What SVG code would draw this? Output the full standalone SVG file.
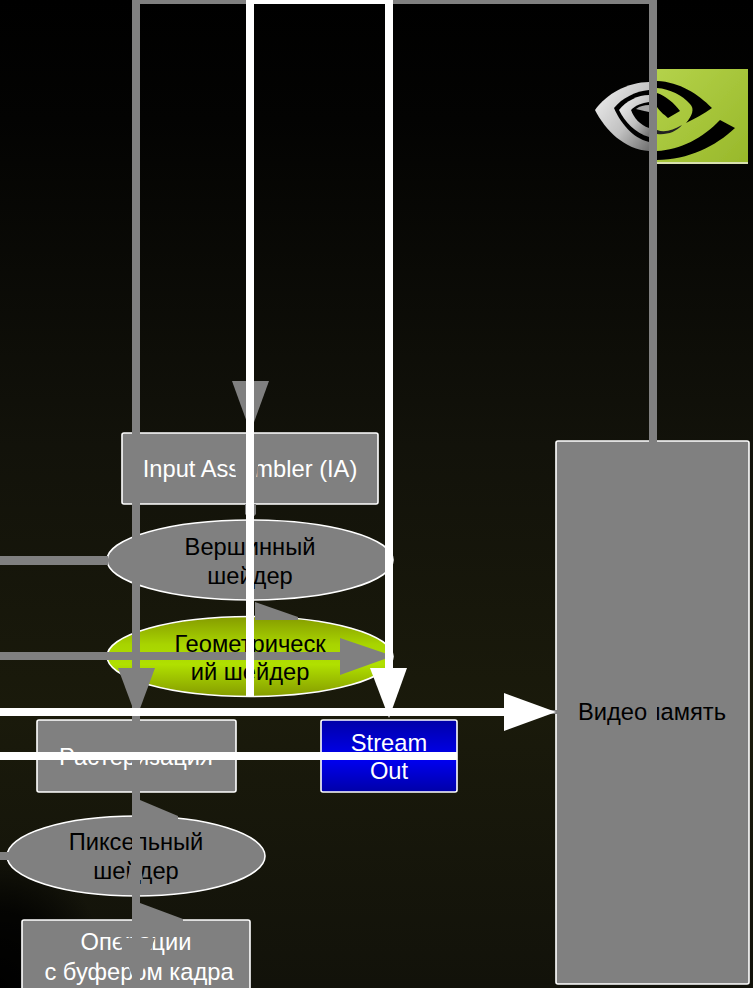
<svg xmlns="http://www.w3.org/2000/svg" width="753" height="988" viewBox="0 0 753 988">
<defs>
<linearGradient id="bg" x1="0" y1="0" x2="0" y2="1"><stop offset="0" stop-color="#000"/><stop offset="0.12" stop-color="#030302"/><stop offset="0.45" stop-color="#12120a"/><stop offset="0.72" stop-color="#1a1a0b"/><stop offset="1" stop-color="#12120a"/></linearGradient>
<radialGradient id="corner" cx="0" cy="1" r="1"><stop offset="0" stop-color="#000" stop-opacity="1"/><stop offset="0.55" stop-color="#000" stop-opacity="0.8"/><stop offset="1" stop-color="#000" stop-opacity="0"/></radialGradient>
<linearGradient id="lime" x1="0" y1="0" x2="0" y2="1"><stop offset="0" stop-color="#859b00"/><stop offset="0.35" stop-color="#a8d400"/><stop offset="0.6" stop-color="#b0e000"/><stop offset="1" stop-color="#859b00"/></linearGradient>
<linearGradient id="blue" x1="0" y1="0" x2="0" y2="1"><stop offset="0" stop-color="#0000a8"/><stop offset="0.55" stop-color="#0000f0"/><stop offset="1" stop-color="#0000a8"/></linearGradient>
<linearGradient id="logoGreen" x1="0" y1="0" x2="1" y2="1"><stop offset="0" stop-color="#b4d24a"/><stop offset="1" stop-color="#98b82a"/></linearGradient>
<linearGradient id="silver" x1="0" y1="0" x2="1" y2="1"><stop offset="0" stop-color="#f4f4f4"/><stop offset="0.6" stop-color="#c0c0c0"/><stop offset="1" stop-color="#707070"/></linearGradient>
<filter id="soft" x="-5%" y="-5%" width="110%" height="110%"><feGaussianBlur stdDeviation="0.7"/></filter>
</defs>
<style>
text{font-family:"Liberation Sans",Arial,sans-serif;font-size:23.7px;text-anchor:middle}
.k{fill:#000}.w{fill:#fff}
.n{fill:#808080;stroke:#fff;stroke-width:1.6}
.g{fill:#808080}.wf{fill:#fff}
</style>
<rect width="753" height="988" fill="url(#bg)"/>
<rect x="0" y="850" width="110" height="138" fill="url(#corner)"/>
<g id="logo" filter="url(#soft)">
<rect x="657" y="69" width="91" height="95" fill="url(#logoGreen)"/>
<rect x="657" y="162" width="91" height="2" fill="#d8e0b0"/>
<path d="M595,110C606,94 628,82 649,82L649,151C625,150 605,130 595,110Z" fill="url(#silver)"/>
<path d="M614,108C622,98 636,91 649,90L649,142C632,138 620,122 614,108Z" fill="#000"/>
<path d="M619,110C626,101 638,95 649,95L649,137C635,133 625,122 619,110Z" fill="url(#silver)"/>
<path d="M631,110C636,105 642,103 649,102L649,128C640,125 634,118 631,110Z" fill="#000"/>
<path d="M636,109C640,106 644,105 649,105L649,112C644,111 640,110 636,109Z" fill="#a8a8a8"/>
<path d="M657,81C680,82 698,94 712,108C704,114 694,119 686,123C692,116 695,109 690,104C682,95 670,89 657,88Z" fill="#000"/>
<path d="M657,93C666,96 674,103 680,111L668,118C665,115 661,113 657,107Z" fill="#000"/>
<path d="M657,130C665,133 673,130 682,125C676,132 667,135 657,134Z" fill="#222"/>
<path d="M657,151C680,150 703,138 720,120L735,128C716,146 688,160 657,160Z" fill="#000"/>
</g>
<g id="node-ia"><rect class="n" x="122" y="433" width="256" height="71" rx="2"/><text class="w" x="250" y="477">Input Assembler (IA)</text></g>
<g id="node-vs"><ellipse class="n" cx="250" cy="560" rx="143" ry="40"/><text class="k" x="250" y="555">Вершинный</text><text class="k" x="250" y="584">шейдер</text></g>
<g id="node-gs"><ellipse cx="250" cy="656.500" rx="143" ry="40" fill="url(#lime)" stroke="#fff" stroke-width="1.600"/><text class="k" x="250" y="652">Геометрическ</text><text class="k" x="250" y="680">ий шейдер</text></g>
<g id="node-rast"><rect class="n" x="37" y="720" width="199" height="72" rx="2"/><text class="w" x="136" y="765">Растеризация</text></g>
<g id="node-so"><rect x="321" y="720" width="136" height="72" rx="2" fill="url(#blue)" stroke="#fff" stroke-width="1.600"/><text class="w" x="389" y="751">Stream</text><text class="w" x="389" y="779">Out</text></g>
<g id="node-ps"><ellipse class="n" cx="136" cy="856" rx="129" ry="40"/><text class="k" x="136" y="850">Пиксельный</text><text class="k" x="136" y="879">шейдер</text></g>
<g id="node-om"><rect class="n" x="22" y="920" width="228" height="80" rx="2"/><text class="w" x="136" y="950">Операции</text><text class="w" x="139" y="980">с буфером кадра</text></g>
<g id="node-mem"><rect class="n" x="556" y="441" width="193" height="543" rx="2"/><text class="k" x="652" y="720" word-spacing="-6">Видео память</text></g>
<g id="connectors">
<path class="g" d="M132,0H657V440H649V4H140V720H132Z"/>
<rect class="g" x="649" y="440" width="8" height="290"/>
<rect class="g" x="132" y="720" width="8" height="268"/>
<polygon class="g" points="232,381 269,381 250.500,432"/>
<polygon class="g" points="234,459 258,459 258,466 253,500 247,500 236,478"/>
<polygon class="g" points="245,504 256,504 256,514 250.500,520 245,514"/>
<polygon class="g" points="255,602 298,617 298,620 255,620"/>
<polygon class="g" points="118,668 155,668 136.500,718"/>
<rect class="g" x="0" y="556" width="108" height="9"/>
<rect class="g" x="0" y="652" width="342" height="8"/>
<polygon class="g" points="340,638 393,656 340,675"/>
<polygon class="g" points="140,800 178,816 178,820 140,820"/>
<polygon class="g" points="127,880 132,860 140,860 143,880"/>
<rect class="g" x="0" y="852" width="9" height="8"/>
<polygon class="g" points="140,903 183,919 183,922 140,922"/>
<polygon class="g" points="118,938 155,938 136.500,988"/>
<rect class="g" x="548" y="710" width="10" height="4"/>
<path class="wf" d="M246,0H393V668H385V4H254V696H246Z"/>
<polygon class="wf" points="370,668 407,668 389,718"/>
<rect class="wf" x="0" y="708" width="506" height="8"/>
<polygon class="wf" points="504,693 556,712 504,731"/>
<rect class="wf" x="0" y="752" width="457" height="8"/>
</g>
</svg>
